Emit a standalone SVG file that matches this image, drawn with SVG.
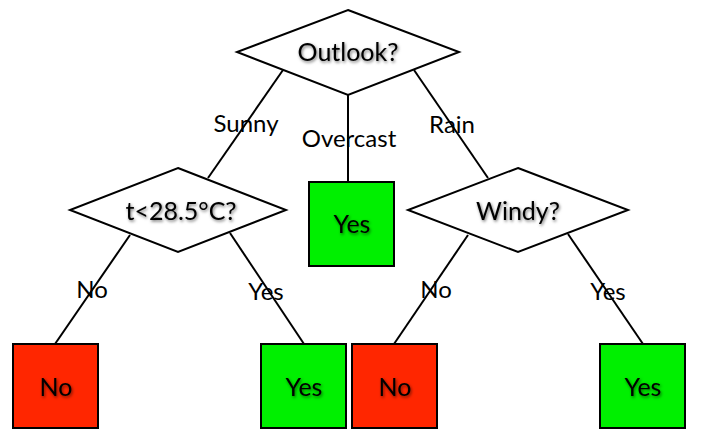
<svg xmlns="http://www.w3.org/2000/svg" width="706" height="445" viewBox="0 0 706 445">
<defs>
<filter id="sh" x="-20%" y="-30%" width="140%" height="160%">
<feDropShadow dx="1" dy="1.5" stdDeviation="1.5" flood-color="#000" flood-opacity="0.55"/>
</filter>
</defs>
<style>
.dia{fill:#fff;stroke:#000;stroke-width:2;stroke-linejoin:miter}
.box{stroke:#000;stroke-width:2}
.yes{fill:#00f000}
.no{fill:#ff2600}
.nt{font-family:Lato,"Open Sans",sans-serif;font-size:25px;fill:#000;text-anchor:middle;filter:url(#sh)}
.lbl{font-family:Lato,"Open Sans",sans-serif;font-size:24px;fill:#000;text-anchor:middle}
.ln{stroke:#000;stroke-width:2;fill:none}
</style>
<rect width="706" height="445" fill="#fff"/>
<g id="connectors">
<line class="ln" x1="283" y1="70" x2="208" y2="178"/>
<line class="ln" x1="348" y1="95" x2="348" y2="182"/>
<line class="ln" x1="414" y1="70" x2="488" y2="178"/>
<line class="ln" x1="130" y1="235" x2="55" y2="344"/>
<line class="ln" x1="230" y1="233" x2="304" y2="344"/>
<line class="ln" x1="468" y1="235" x2="394" y2="344"/>
<line class="ln" x1="568" y1="234" x2="643" y2="344"/>
</g>
<g id="edge-labels">
<text class="lbl" x="246" y="132">Sunny</text>
<text class="lbl" x="349" y="147">Overcast</text>
<text class="lbl" x="452" y="133">Rain</text>
<text class="lbl" x="92" y="298">No</text>
<text class="lbl" x="266" y="300">Yes</text>
<text class="lbl" x="436" y="298">No</text>
<text class="lbl" x="608" y="300">Yes</text>
</g>
<g id="outlook">
<polygon class="dia" points="348,10 459,52 348,95 237,52"/>
<text class="nt" x="348" y="61">Outlook?</text>
</g>
<g id="temp">
<polygon class="dia" points="178,168 286,210 178,252 70,210"/>
<text class="nt" x="181" y="220">t&lt;28.5°C?</text>
</g>
<g id="overcast-yes">
<rect class="box yes" x="309" y="182" width="85" height="84"/>
<text class="nt" x="352" y="233">Yes</text>
</g>
<g id="windy">
<polygon class="dia" points="518,168 628,210 518,252 408,210"/>
<text class="nt" x="518" y="220">Windy?</text>
</g>
<g id="temp-no">
<rect class="box no" x="13" y="344" width="85" height="84"/>
<text class="nt" x="56" y="396">No</text>
</g>
<g id="temp-yes">
<rect class="box yes" x="261" y="344" width="85" height="84"/>
<text class="nt" x="304" y="396">Yes</text>
</g>
<g id="windy-no">
<rect class="box no" x="352" y="344" width="85" height="84"/>
<text class="nt" x="395" y="396">No</text>
</g>
<g id="windy-yes">
<rect class="box yes" x="600" y="344" width="85" height="84"/>
<text class="nt" x="643" y="396">Yes</text>
</g>
</svg>
